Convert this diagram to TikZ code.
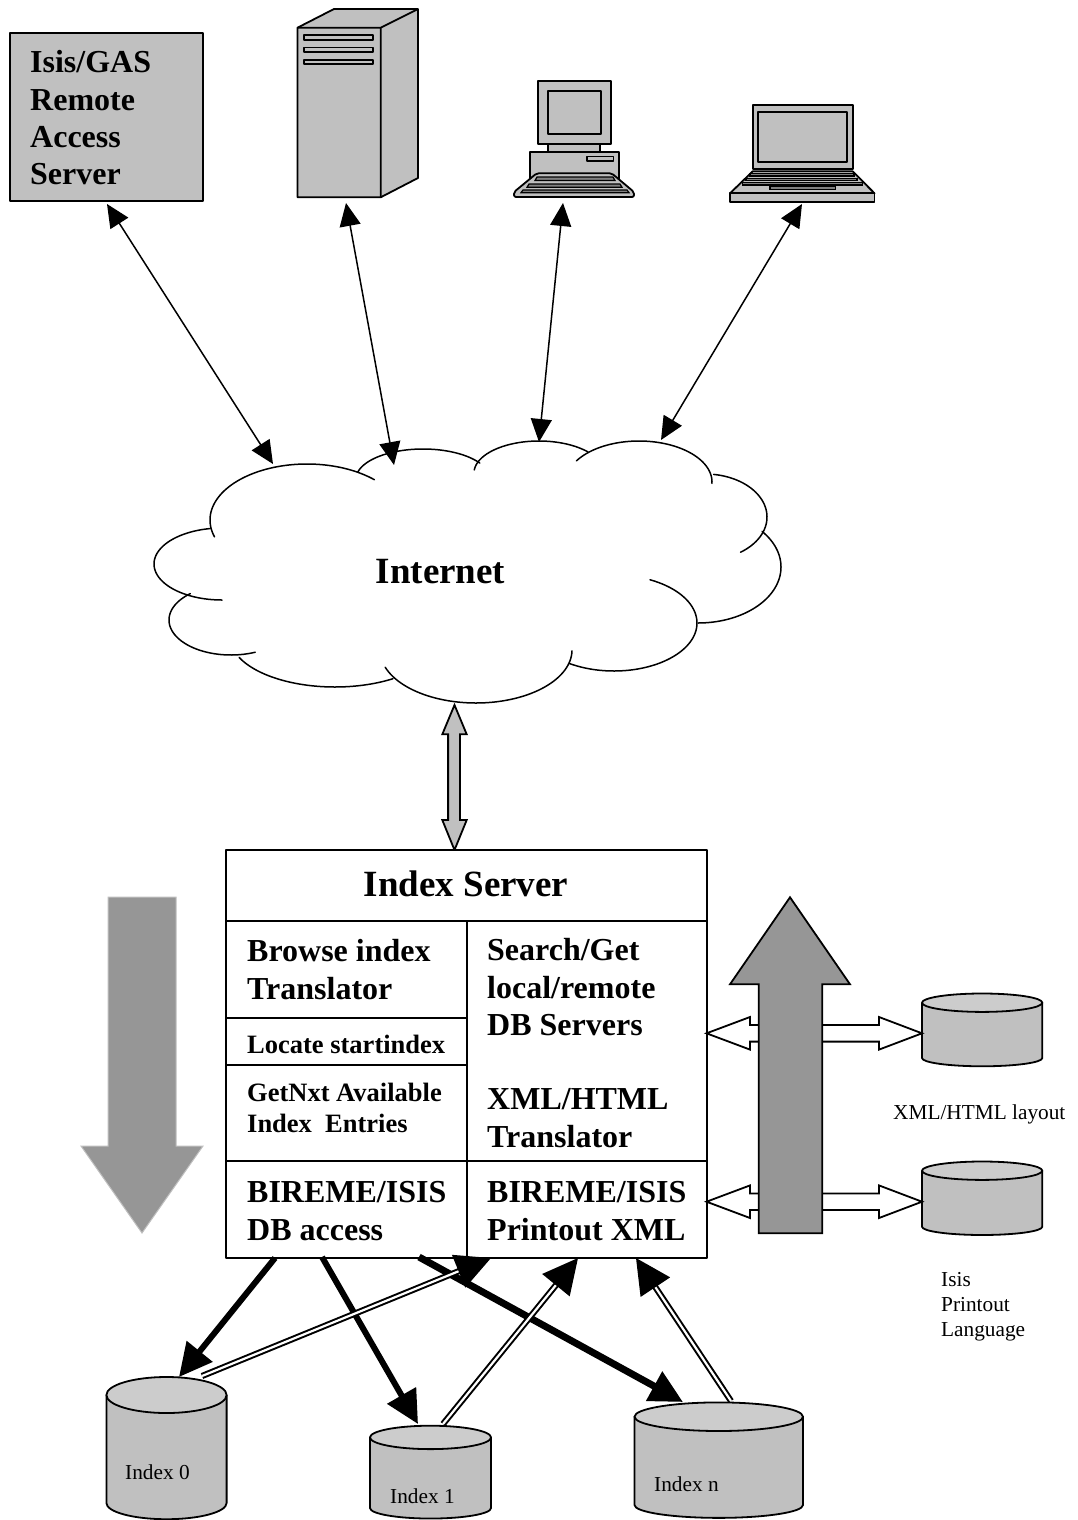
\documentclass[tikz,border=0pt]{standalone}
\usepackage{fontspec}
\setmainfont{Liberation Serif}
\usetikzlibrary{arrows.meta}
\definecolor{gA}{HTML}{C0C0C0}
\definecolor{gB}{HTML}{969696}
\definecolor{gC}{HTML}{CCCCCC}
\definecolor{gD}{HTML}{808080}
\newcommand{\fsz}[1]{\fontsize{#1}{#1}\selectfont}
\tikzset{
  x=1pt,y=-1pt,
  shp/.style={draw=black,line width=1.8pt,line join=round},
  shg/.style={shp,fill=gA},
  ln/.style={draw=black,line width=1.5pt,line cap=round},
  lab/.style={inner sep=0pt,anchor=base west,text=black},
  bA/.style={lab,font=\fsz{32}\bfseries},
  bB/.style={lab,font=\fsz{26.5}\bfseries},
  bC/.style={inner sep=0pt,anchor=base,font=\fsz{37}\bfseries},
  rA/.style={lab,font=\fsz{21.3}},
  link/.style={draw=black,line width=1.5pt,{Triangle[length=23pt,width=21pt]}-{Triangle[length=23pt,width=21pt]}},
  thick arrow/.style={draw=black,line width=#1,-{Triangle[length=33pt,width=32pt]}},
  dbl arrow/.style={draw=black,line width=2pt,double=white,double distance=2.2pt,-{Triangle[length=35pt,width=35pt]}},
  openhead/.style={draw=black,line width=1.8pt,fill=white,line join=miter},
}
% cylinder: x left, x right, y centre of top ellipse, ry, y end of side
\newcommand{\cyl}[5]{%
  \path[shg] (#1,#3) -- (#1,#5) arc[start angle=180,end angle=360,x radius={(#2-#1)/2},y radius=#4*-0.9] -- (#2,#3) -- cycle;
  \path[shp,fill=gC] ({(#1+#2)/2},#3) ellipse[x radius={(#2-#1)/2},y radius=#4];
}
% cloud lobe: centre x, centre y, rx, ry, from angle, to angle
\newcommand{\lobe}[6]{%
  \draw[ln] plot[domain=#5:#6,samples=60,smooth] ({#1+#3*cos(\x)},{#2+#4*sin(\x)});
}
\begin{document}
\begin{tikzpicture}
\useasboundingbox (0,0) rectangle (1078,1520);
\fill[white] (0,0) rectangle (1078,1520);
\begin{scope}
\clip (0,0) rectangle (1078,1520);

% ---- access server
\node[shg,outer sep=0pt,minimum width=193pt,minimum height=168pt,inner sep=0pt,anchor=north west] (gas) at (10,33) {};
\node[bA] (g1) at (30,73) {Isis/GAS};
\node[bA] (g2) at (30,110) {Remote};
\node[bA] (g3) at (30,147) {Access};
\node[bA] (g4) at (30,184) {Server};

% ---- tower
\path[shg] (297.5,27.7) -- (334,9) -- (418,9) -- (418,178) -- (380.7,197.3) -- (297.5,197.3) -- cycle;
\path[shp] (297.5,27.7) -- (380.7,27.7) -- (418,9) (380.7,27.7) -- (380.7,197.3);
\foreach \ya/\yb in {35/40,47.7/52,60/64}
  \path[shp,line width=1.5pt] (304,\ya) rectangle (373,\yb);
\coordinate (tower) at (346,197);

% ---- desktop
\path[shg] (537.7,80.7) rectangle (611,144);
\path[shg] (548,90.7) rectangle (600.7,133.7);
\path[shg] (548.3,144) rectangle (600,151.7);
\path[shg] (529.7,151.7) rectangle (619,180);
\path[shg,line width=1.5pt] (587,156.7) rectangle (613.7,161);
\path[shg,rounded corners=2pt] (536.7,173.3) -- (611.7,173.3) -- (634,192) -- (634,197) -- (514,197) -- (514,192) -- cycle;
\path[draw=black,fill=gD,line width=1.2pt] (537,177) -- (613,177) -- (615,180.5) -- (535,180.5) -- cycle;
\path[draw=black,fill=gD,line width=1.2pt] (529,184) -- (620,184) -- (622,187.3) -- (527,187.3) -- cycle;
\path[draw=black,fill=gD,line width=1.2pt] (523,190) -- (627,190) -- (629,192.7) -- (521,192.7) -- cycle;
\coordinate (desktop) at (563,197);

% ---- laptop
\path[shg] (752.7,104.7) rectangle (852.7,168.7);
\path[shg] (758.3,111.7) rectangle (847.3,162);
\path[shg] (752.7,171.3) -- (852.7,171.3) -- (874.5,193.3) -- (730,193.3) -- cycle;
\path[shg] (730,193.3) rectangle (874.5,201.7);
\path[draw=black,fill=gD,line width=1.2pt] (750,173.5) rectangle (854,176);
\path[draw=black,fill=gD,line width=1.2pt] (746,178.3) rectangle (857,180.7);
\path[draw=black,fill=gD,line width=1.2pt] (742.3,182.7) rectangle (862.3,185);
\path[draw=black,fill=gD,line width=1.2pt] (770,186.7) rectangle (835.7,189.3);
\coordinate (laptop) at (802,202);

% ---- cloud
\lobe{307}{520}{97}{56}{-197.5}{-46}
\lobe{423}{479}{67}{30}{-166.5}{-32}
\lobe{539}{473}{65}{32}{-174.6}{-41}
\lobe{639}{482}{73}{41}{-149}{2}
\lobe{705}{517}{62}{43}{-82}{55}
\lobe{698}{567}{83}{56}{-39.5}{90}
\lobe{614}{623}{83}{48}{-64.3}{122.8}
\lobe{476}{650}{96}{53}{1}{161}
\lobe{335}{637}{105}{50}{56.5}{156}
\lobe{231}{620}{62}{35}{67}{229}
\lobe{222}{564}{68}{36}{90}{260}
\node[bC] (internet) at (440.5,583) {Internet};
\coordinate (c1) at (273,464);
\coordinate (c2) at (394,465);
\coordinate (c3) at (539,442);
\coordinate (c4) at (661,440);
\coordinate (g0) at (107,204);
\coordinate (cb) at (454.5,705);
\coordinate (sb) at (454.5,850);

\draw[link] (g0) -- (c1);
\draw[link] (tower) ++(0,6) coordinate (towerb) (towerb) -- (c2);
\draw[link] (desktop) ++(0,6) coordinate (deskb) (deskb) -- (c3);
\draw[link] (laptop) ++(0,2) coordinate (lapb) (lapb) -- (c4);

% ---- internet link (broad grey)
\path[draw=black,fill=gA,line width=1.8pt,line join=miter]
  (cb) -- ++(12.2,29.3) -- ++(-6.7,0) -- ++(0,85.7) -- ++(6.7,0) -- (sb) -- ++(-12.2,-30) -- ++(5.8,0) -- ++(0,-85.7) -- ++(-5.8,0) -- cycle;

% ---- index server
\node[shp,fill=white,outer sep=0pt,minimum width=481pt,minimum height=408pt,inner sep=0pt,anchor=north west] (srv) at (226,850) {};
\draw[shp] (226,921) -- (707,921) (226,1161) -- (707,1161) (467,921) -- (467,1258) (226,1018) -- (467,1018) (226,1065) -- (467,1065);
\node[bC] (srvt) at (466,896) {Index Server};
\node[bA] (a1) at (247,961) {Browse index};
\node[bA] (a2) at (247,999) {Translator};
\node[bB] (a3) at (247,1053) {Locate startindex};
\node[bB] (a4) at (247,1101) {GetNxt Available};
\node[bB] (a5) at (247,1132) {Index\ \ Entries};
\node[bA] (a6) at (247,1202) {BIREME/ISIS};
\node[bA] (a7) at (247,1240) {DB access};
\node[bA] (b1) at (487,960) {Search/Get};
\node[bA] (b2) at (487,998) {local/remote};
\node[bA] (b3) at (487,1035) {DB Servers};
\node[bA] (b4) at (487,1109) {XML/HTML};
\node[bA] (b5) at (487,1147) {Translator};
\node[bA] (b6) at (487,1202) {BIREME/ISIS};
\node[bA] (b7) at (487,1240) {Printout XML};

% ---- down arrow
\path[fill=gB,draw=gA,line width=1pt] (108,897) -- (176,897) -- (176,1146) -- (203,1146) -- (142,1233) -- (81,1146) -- (108,1146) -- cycle;

% ---- side cylinders
\cyl{922}{1042.3}{1002.7}{9.2}{1058}
\cyl{922}{1042.3}{1170.7}{9.2}{1226.7}
\coordinate (s1) at (706.5,1033.3);
\coordinate (s2) at (706.5,1201.7);
\coordinate (d1) at (922,1033.3);
\coordinate (d2) at (922,1201.7);
\foreach \a in {s1,s2}
  \path[openhead] (\a) -- ++(43.5,-16.3) -- ++(0,8) -- ++(47,0) -- ++(0,16.6) -- ++(-47,0) -- ++(0,8) -- cycle;
\foreach \a in {d1,d2}
  \path[openhead] (\a) -- ++(-43,-16.3) -- ++(0,8) -- ++(-70,0) -- ++(0,16.6) -- ++(70,0) -- ++(0,8) -- cycle;

% ---- up arrow
\path[shp,fill=gB,line join=miter] (790,897.3) -- (850,984.3) -- (822.3,984.3) -- (822.3,1233.3) -- (758.7,1233.3) -- (758.7,984.3) -- (730,984.3) -- cycle;

\node[rA] (xl) at (893,1119) {XML/HTML layout};
\node[rA] (p1) at (941,1286) {Isis};
\node[rA] (p2) at (941,1311) {Printout};
\node[rA] (p3) at (941,1336) {Language};

% ---- index cylinders
\cyl{106.4}{226.6}{1395}{18}{1503}
\cyl{370}{491}{1437.4}{11.7}{1508}
\cyl{634.5}{803}{1416.7}{14.3}{1505}
\node[rA] (i0) at (125,1479) {Index 0};
\node[rA] (i1) at (390,1503) {Index 1};
\node[rA] (in) at (654,1491) {Index n};

\coordinate (t0s) at (275,1258);
\coordinate (t0e) at (179,1377);
\coordinate (t1s) at (322,1257);
\coordinate (t1e) at (418,1424);
\coordinate (tns) at (419,1257);
\coordinate (tne) at (683,1402);
\coordinate (d0s) at (202,1376);
\coordinate (d0e) at (491,1258);
\coordinate (d1s) at (443,1424);
\coordinate (d1e) at (578,1258);
\coordinate (dns) at (731,1401);
\coordinate (dne) at (636,1258);
\draw[thick arrow=6pt] (t0s) -- (t0e);
\draw[thick arrow=6pt] (t1s) -- (t1e);
\draw[thick arrow=7pt] (tns) -- (tne);
\draw[dbl arrow] (d0s) -- (d0e);
\draw[dbl arrow] (d1s) -- (d1e);
\draw[dbl arrow] (dns) -- (dne);
\end{scope}
\end{tikzpicture}
\end{document}
